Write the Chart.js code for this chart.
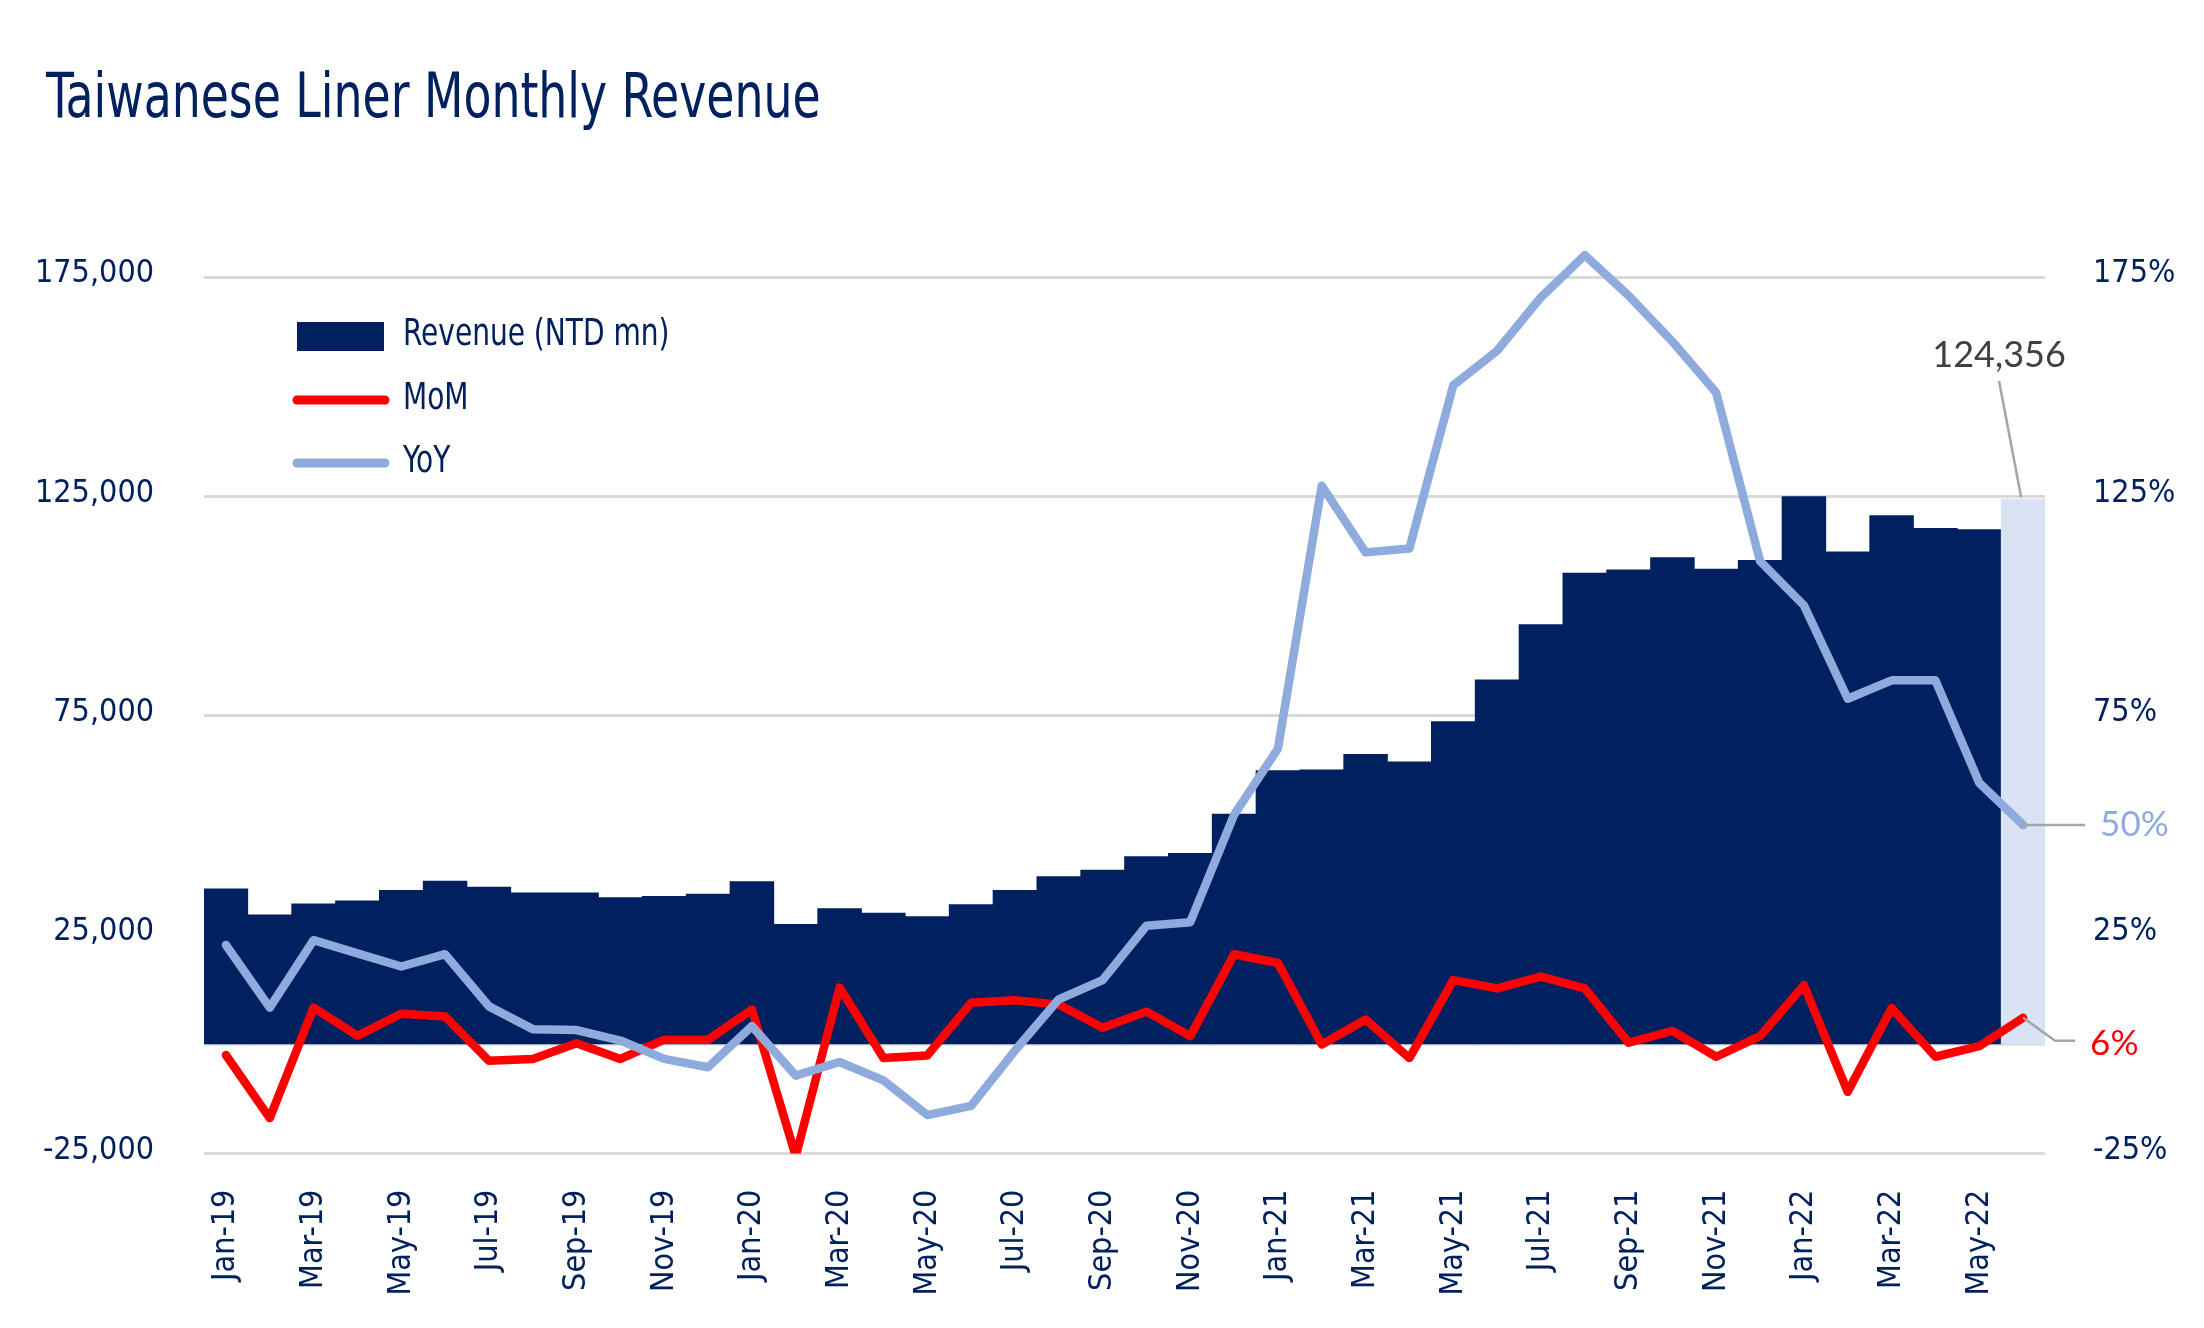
<!DOCTYPE html>
<html>
<head>
<meta charset="utf-8">
<title>Taiwanese Liner Monthly Revenue</title>
<script src="https://cdn.jsdelivr.net/npm/chart.js@4.4.1/dist/chart.umd.min.js"></script>
<style>
	html, body { margin: 0; padding: 0; background: #fff; }
	#wrap { width: 2204px; height: 1328px; position: relative; }
</style>
</head>
<body>
<div id="wrap"><canvas id="chart"></canvas></div>
<script>
// monthly data, Jan-19 .. Jun-22
const months = [
	'Jan-19', 'Feb-19', 'Mar-19', 'Apr-19', 'May-19', 'Jun-19', 'Jul-19', 'Aug-19', 'Sep-19', 'Oct-19', 'Nov-19', 'Dec-19',
	'Jan-20', 'Feb-20', 'Mar-20', 'Apr-20', 'May-20', 'Jun-20', 'Jul-20', 'Aug-20', 'Sep-20', 'Oct-20', 'Nov-20', 'Dec-20',
	'Jan-21', 'Feb-21', 'Mar-21', 'Apr-21', 'May-21', 'Jun-21', 'Jul-21', 'Aug-21', 'Sep-21', 'Oct-21', 'Nov-21', 'Dec-21',
	'Jan-22', 'Feb-22', 'Mar-22', 'Apr-22', 'May-22', 'Jun-22'
];
// Revenue, NTD mn
const revenue = [
	35400, 29500, 32000, 32700, 35100, 37200, 35800, 34500, 34500, 33400, 33700, 34200,
	37100, 27300, 30900, 29900, 29100, 31800, 35100, 38200, 39700, 42800, 43500, 52500,
	62400, 62600, 66100, 64400, 73600, 83100, 95700, 107500, 108200, 111000, 108400, 110400,
	124900, 112300, 120600, 117700, 117400, 124356
];
// month on month change, %
const mom = [
	-2.5, -16.9, 8.3, 1.9, 6.9, 6.3, -3.8, -3.4, 0.2, -3.4, 1.0, 1.0,
	7.9, -25.6, 12.9, -3.2, -2.6, 9.4, 10.0, 9.0, 3.7, 7.4, 1.8, 20.5,
	18.5, -0.1, 5.6, -3.2, 14.6, 12.7, 15.4, 12.7, 0.3, 3.0, -2.9, 1.8,
	13.4, -10.9, 8.2, -2.9, -0.5, 6
];
// year on year change, %
const yoy = [
	22.6, 8.3, 23.7, 20.7, 17.7, 20.5, 8.6, 3.4, 3.2, 0.8, -3.4, -5.3,
	4.1, -7.2, -4.1, -8.3, -16.2, -14.1, -1.5, 10.2, 14.6, 27.0, 27.8, 52.3,
	67.4, 127.4, 112.2, 113.1, 150.3, 158.2, 170.4, 180.0, 170.8, 160.3, 148.6, 110.2,
	100.1, 78.8, 83.0, 83.0, 59.6, 50
];
const revenueTicks = [-25000, 25000, 75000, 125000, 175000];
const pctTicks = [-25, 25, 75, 125, 175];

const cNavy = '#002060';
const cLight = '#DAE3F3';
const cRed = '#FF0000';
const cBlue = '#8FAADC';
const cGrid = '#D9D9D9';
const cLeader = '#A6A6A6';
const narrow = '"Liberation Sans Narrow", "DejaVu Sans Condensed", sans-serif';
const calibriLike = 'Lato, "Open Sans", sans-serif';

const last = months.length - 1;
const barColors = revenue.map((v, i) => i === last ? cLight : cNavy);

// squeeze text horizontally, the reference uses a very narrow face
function narrowText(ctx, text, x, y, sx) {
	ctx.save();
	ctx.translate(x, y); ctx.scale(sx, 1);
	ctx.fillText(text, 0, 0);
	ctx.restore();
}

const decor = {
	id: 'decor',
	beforeDatasetsDraw(chart) {
		const { ctx, chartArea, scales } = chart;
		const y0 = scales.y.getPixelForValue(0);
		ctx.save();
		ctx.strokeStyle = cGrid; ctx.lineWidth = 3;
		ctx.beginPath(); ctx.moveTo(chartArea.left, y0); ctx.lineTo(chartArea.right, y0); ctx.stroke();
		ctx.restore();
	},
	afterDraw(chart) {
		const { ctx, scales } = chart;
		ctx.save();

		// title
		ctx.fillStyle = cNavy;
		ctx.font = '62px ' + narrow;
		ctx.textAlign = 'left'; ctx.textBaseline = 'alphabetic';
		narrowText(ctx, 'Taiwanese Liner Monthly Revenue', 46, 117, 0.82);

		// legend
		ctx.fillStyle = cNavy;
		ctx.fillRect(297, 322, 87, 29);
		ctx.lineCap = 'round'; ctx.lineWidth = 9;
		ctx.strokeStyle = cRed;
		ctx.beginPath(); ctx.moveTo(297, 400); ctx.lineTo(385, 400); ctx.stroke();
		ctx.strokeStyle = cBlue;
		ctx.beginPath(); ctx.moveTo(297, 463); ctx.lineTo(385, 463); ctx.stroke();
		ctx.font = '38px ' + narrow;
		ctx.fillStyle = cNavy;
		narrowText(ctx, 'Revenue (NTD mn)', 403, 345, 0.82);
		narrowText(ctx, 'MoM', 403, 409, 0.82);
		narrowText(ctx, 'YoY', 403, 472, 0.82);

		// last-month callouts
		const cx = scales.x.getPixelForValue(last);
		const barTop = scales.y.getPixelForValue(revenue[last]);
		const yoyY = scales.y1.getPixelForValue(yoy[last]);
		const momY = scales.y1.getPixelForValue(mom[last]);
		ctx.lineCap = 'butt'; ctx.lineWidth = 2.5; ctx.strokeStyle = cLeader;
		ctx.beginPath(); ctx.moveTo(cx - 24, barTop - 118); ctx.lineTo(cx - 2, barTop - 2); ctx.stroke();
		ctx.beginPath(); ctx.moveTo(cx, yoyY); ctx.lineTo(cx + 62, yoyY); ctx.stroke();
		ctx.beginPath(); ctx.moveTo(cx, momY); ctx.lineTo(cx + 32, momY + 23); ctx.lineTo(cx + 52, momY + 23); ctx.stroke();

		ctx.font = '36px ' + calibriLike;
		ctx.fillStyle = '#404040';
		ctx.textAlign = 'center';
		ctx.fillText(revenue[last].toLocaleString('en-US'), cx - 24, barTop - 132);
		ctx.textAlign = 'left'; ctx.textBaseline = 'middle';
		ctx.font = '35px ' + calibriLike;
		ctx.fillStyle = cBlue;
		ctx.fillText(yoy[last] + '%', cx + 77, yoyY);
		ctx.fillStyle = cRed;
		ctx.fillText(mom[last] + '%', cx + 67, momY + 26);
		ctx.restore();
	}
};

new Chart(document.getElementById('chart'), {
	data: {
		labels: months,
		datasets: [
			{ type: 'line', label: 'YoY', data: yoy, yAxisID: 'y1', borderColor: cBlue, borderWidth: 8.5, pointRadius: 0, tension: 0, borderJoinStyle: 'round', borderCapStyle: 'round', order: 0 },
			{ type: 'line', label: 'MoM', data: mom, yAxisID: 'y1', borderColor: cRed, borderWidth: 8.5, pointRadius: 0, tension: 0, borderJoinStyle: 'round', borderCapStyle: 'round', order: 1 },
			{ type: 'bar', label: 'Revenue (NTD mn)', data: revenue, yAxisID: 'y', backgroundColor: barColors, borderWidth: 0, barPercentage: 1, categoryPercentage: 1, order: 2 }
		]
	},
	options: {
		responsive: true, maintainAspectRatio: false,
		animation: false,
		layout: { padding: { top: 167.6, left: 0, right: 0, bottom: 0 } },
		plugins: { legend: { display: false }, tooltip: { enabled: false } },
		scales: {
			x: {
				grid: { display: false }, border: { display: false },
				ticks: {
					autoSkip: false, minRotation: 90, maxRotation: 90, padding: 28,
					color: cNavy, font: { family: narrow, size: 32 },
					callback: (v, i) => i % 2 === 0 ? months[i] : ''
				},
				afterFit: s => { s.height = 174.4; }
			},
			y: {
				position: 'left', min: -25000, max: 200000,
				grid: { color: cGrid, lineWidth: 3, drawTicks: false }, border: { display: false },
				ticks: { padding: 50, labelOffset: -3, color: cNavy, font: { family: narrow, size: 32 }, callback: v => v.toLocaleString('en-US') },
				afterBuildTicks: s => { s.ticks = revenueTicks.map(v => ({ value: v })); },
				afterFit: s => { s.width = 204; }
			},
			y1: {
				position: 'right', min: -25, max: 200,
				grid: { display: false, drawTicks: false }, border: { display: false },
				ticks: { padding: 48, labelOffset: -3, color: cNavy, font: { family: narrow, size: 32 }, callback: v => v + '%' },
				afterBuildTicks: s => { s.ticks = pctTicks.map(v => ({ value: v })); },
				afterFit: s => { s.width = 159; }
			}
		}
	},
	plugins: [decor]
});
</script>
</body>
</html>
